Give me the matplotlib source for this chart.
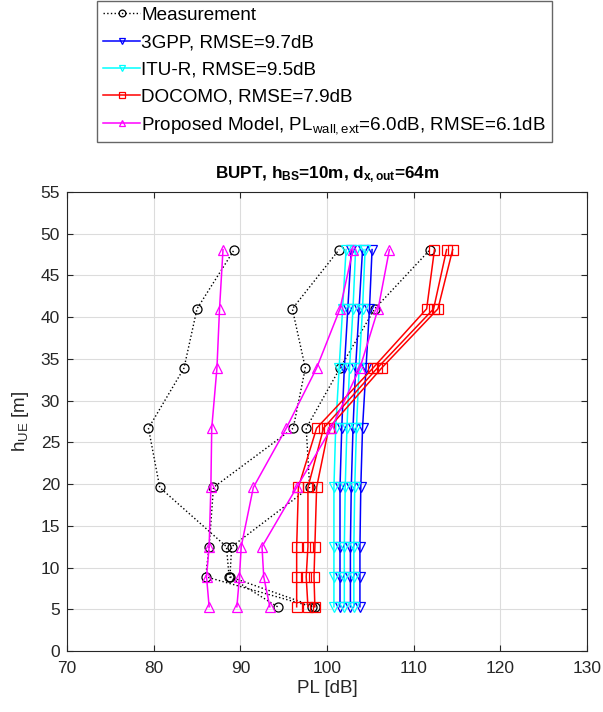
import matplotlib
matplotlib.use("Agg")
import matplotlib.pyplot as plt

plt.rcParams['font.family'] = ['Liberation Sans', 'DejaVu Sans']
plt.rcParams['mathtext.fontset'] = 'custom'
plt.rcParams['mathtext.rm'] = 'Liberation Sans'
plt.rcParams['mathtext.it'] = 'Liberation Sans'
plt.rcParams['mathtext.bf'] = 'Liberation Sans:bold'

# UE heights (m), bottom to top
heights = [5.3, 8.9, 12.5, 19.6, 26.7, 33.9, 41.0, 48.1]

# Measurement (three routes)
meas_a = [94.3, 88.7, 88.4, 80.7, 79.4, 83.5, 85.0, 89.3]
meas_b = [98.3, 86.0, 86.4, 86.9, 96.1, 97.5, 96.0, 101.4]
meas_c = [98.6, 88.8, 89.0, 98.0, 97.6, 101.5, 105.5, 111.9]

# 3GPP
gpp_1 = [101.5, 101.5, 101.5, 101.5, 101.7, 102.0, 102.4, 102.8]
gpp_2 = [102.7, 102.7, 102.7, 102.8, 103.0, 103.3, 103.7, 104.1]
gpp_3 = [103.8, 103.8, 103.8, 103.9, 104.1, 104.5, 104.9, 105.2]

# ITU-R
itu_1 = [100.8, 100.8, 100.8, 100.8, 101.0, 101.4, 101.8, 102.2]
itu_2 = [102.0, 102.0, 102.0, 102.1, 102.3, 102.6, 103.0, 103.3]
itu_3 = [103.1, 103.1, 103.1, 103.2, 103.4, 103.7, 104.1, 104.4]

# DOCOMO
doc_1 = [96.5, 96.5, 96.5, 96.7, 98.8, 105.3, 111.5, 112.4]
doc_2 = [97.8, 97.6, 97.8, 97.8, 99.6, 105.8, 112.3, 113.8]
doc_3 = [98.6, 98.5, 98.6, 98.8, 100.2, 106.3, 112.8, 114.5]

# Proposed model
prop_1 = [86.4, 86.1, 86.4, 86.6, 86.7, 87.3, 87.6, 88.0]
prop_2 = [89.6, 89.9, 90.1, 91.5, 95.3, 98.8, 101.5, 103.0]
prop_3 = [93.4, 92.7, 92.5, 96.5, 100.5, 103.8, 105.9, 107.2]

labels = ['Measurement', '3GPP, RMSE=9.7dB', 'ITU-R, RMSE=9.5dB', 'DOCOMO, RMSE=7.9dB',
          r'Proposed Model, PL$_{\mathrm{wall,ext}}$=6.0dB, RMSE=6.1dB']

x_ticks = [70, 80, 90, 100, 110, 120, 130]
y_ticks = [0, 5, 10, 15, 20, 25, 30, 35, 40, 45, 50, 55]

fig = plt.figure(figsize=(6.03, 7.12), dpi=100)
ax = fig.add_axes([67/603, 1-651/712, 520/603, 459/712])

ms = 6.5
series = [
    ([meas_a, meas_b, meas_c], dict(color='black', linestyle=':', marker='o', lw=1.0,
                                   markerfacecolor='none', markeredgewidth=0.9)),
    ([gpp_1, gpp_2, gpp_3], dict(color='blue', linestyle='-', marker='v', lw=1.1,
                                 markerfacecolor='none', markeredgewidth=0.9)),
    ([itu_1, itu_2, itu_3], dict(color='cyan', linestyle='-', marker='v', lw=1.1,
                                 markerfacecolor='none', markeredgewidth=0.9)),
    ([doc_1, doc_2, doc_3], dict(color='red', linestyle='-', marker='s', lw=1.1,
                                 markerfacecolor='none', markeredgewidth=0.9)),
    ([prop_1, prop_2, prop_3], dict(color='magenta', linestyle='-', marker='^', lw=1.1,
                                    markerfacecolor='none', markeredgewidth=0.9)),
]

handles = []
for (lines, style), lab in zip(series, labels):
    for i, xs in enumerate(lines):
        h, = ax.plot(xs, heights, markersize=ms, label=lab if i == 0 else None, **style)
        if i == 0:
            handles.append(h)

ax.set_xlim(70, 130)
ax.set_ylim(0, 55)
ax.set_xticks(x_ticks)
ax.set_yticks(y_ticks)
ax.tick_params(direction='in', labelsize=12.5, colors='#262626', length=4, top=True, right=True)
ax.tick_params(axis='x', pad=7)
ax.tick_params(axis='y', pad=5)
ax.grid(True, color='#dcdcdc', linewidth=0.8)
ax.set_axisbelow(True)
for s in ax.spines.values():
    s.set_color('#262626')
    s.set_linewidth(0.8)

ax.set_xlabel('PL [dB]', fontsize=13.5, color='#262626', labelpad=3)
ax.set_ylabel(r'h$_{\mathrm{UE}}$ [m]', fontsize=13.5, color='#262626', labelpad=7)
ax.set_title(r'BUPT, h$_{\mathbf{BS}}$=10m, d$_{\mathbf{x,out}}$=64m', fontsize=12.3,
             fontweight='bold', pad=10)

leg = fig.legend(handles=handles, loc='upper left', bbox_to_anchor=(97/603, 1-1/712),
                 fontsize=13.6, frameon=True, fancybox=False, edgecolor='#404040',
                 handlelength=2.0, handletextpad=0.05, labelspacing=0.53,
                 borderpad=0.3, borderaxespad=0, markerscale=0.75)
leg.get_frame().set_linewidth(1.0)

fig.savefig('out.png', dpi=100)
